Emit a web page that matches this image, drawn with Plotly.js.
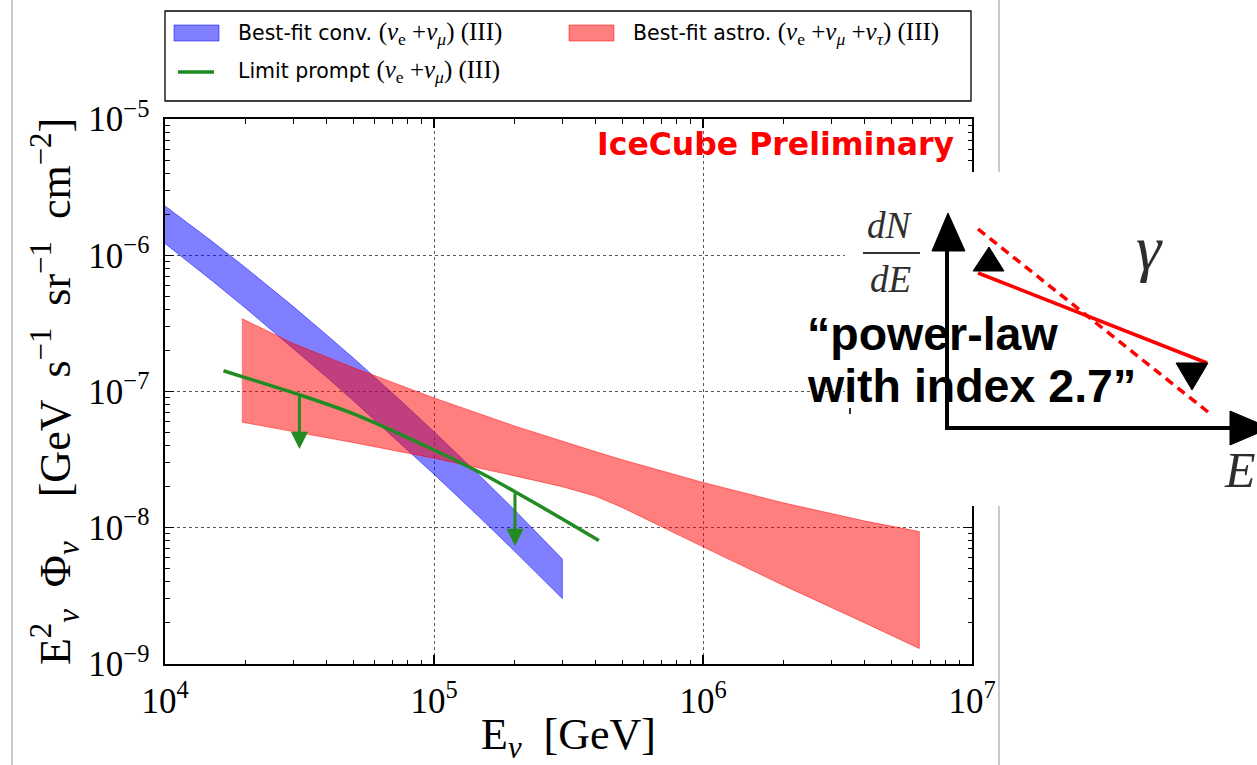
<!DOCTYPE html>
<html>
<head>
<meta charset="utf-8">
<script src="https://cdn.plot.ly/plotly-3.0.1.min.js"></script>
<style>
  html, body { margin: 0; padding: 0; background: #ffffff; }
  #chart { width: 1257px; height: 765px; }
</style>
</head>
<body>
<div id="chart"></div>
<script>
// ---- data: neutrino flux bands and prompt limit (E^2 * flux, GeV s^-1 sr^-1 cm^-2) ----
const E_conv   = [1e4, 1.5e4, 2e4, 3e4, 4e4, 5e4, 7e4, 1e5, 1.5e5, 2e5, 3e5];
const conv_hi  = [2.30e-6, 1.26e-6, 8.06e-7, 4.20e-7, 2.59e-7, 1.77e-7, 9.75e-8, 5.07e-8, 2.35e-8, 1.34e-8, 5.89e-9];
const conv_lo  = [1.22e-6, 6.48e-7, 4.07e-7, 2.07e-7, 1.27e-7, 8.60e-8, 4.73e-8, 2.47e-8, 1.16e-8, 6.68e-9, 3.02e-9];

const E_astro  = [1.93e4, 3e4, 5e4, 1e5, 2e5, 3e5, 4e5, 5e5, 7e5, 1e6, 2e6, 4e6, 6.37e6];
const astro_hi = [3.43e-7, 2.25e-7, 1.50e-7, 8.97e-8, 5.57e-8, 4.30e-8, 3.61e-8, 3.16e-8, 2.61e-8, 2.15e-8, 1.52e-8, 1.12e-8, 9.38e-9];
const astro_lo = [5.96e-8, 5.07e-8, 4.22e-8, 3.24e-8, 2.40e-8, 2.00e-8, 1.70e-8, 1.41e-8, 1.02e-8, 7.24e-9, 3.76e-9, 2.00e-9, 1.30e-9];

const E_prompt     = [1.65e4, 2e4, 3.16e4, 5e4, 1e5, 1.5e5, 2e5, 3e5, 4.1e5];
const prompt_limit = [1.42e-7, 1.26e-7, 9.46e-8, 6.87e-8, 3.72e-8, 2.51e-8, 1.84e-8, 1.16e-8, 8.05e-9];
const E_arrows     = [3.16e4, 2e5];

const MATH = '<span style="font-family:Liberation Serif;font-size:25px">';
const legend_labels = [
  'Best-fit conv. ' + MATH + '(<i>ν</i><sub>e</sub> +<i>ν</i><sub><i>μ</i></sub>) (III)</span>',
  'Best-fit astro. ' + MATH + '(<i>ν</i><sub>e</sub> +<i>ν</i><sub><i>μ</i></sub> +<i>ν</i><sub><i>τ</i></sub>) (III)</span>',
  'Limit prompt ' + MATH + '(<i>ν</i><sub>e</sub> +<i>ν</i><sub><i>μ</i></sub>) (III)</span>'
];
const x_title = 'E<sub><i>ν</i></sub>\u2002[GeV]';
const y_title = 'E<sup>2</sup><sub><i>ν</i></sub>\u2002Φ<sub><i>ν</i></sub>\u2002\u2002[GeV\u2002s<sup>−1</sup>\u2002sr<sup>−1</sup>\u2002cm<sup>−2</sup>]';
const stamp   = 'IceCube Preliminary';
const note_lines = ['\u201Cpower-law', 'with index 2.7\u201D'];

// ---- styling ----
const BLUE_FILL = 'rgba(0,0,255,0.5)';
const RED_FILL  = 'rgba(255,0,0,0.5)';
const GREEN     = '#228B22';
const arrowDrop = 2.5;   // limit arrows point down by this factor

// pixel frame of the figure -> paper coordinates
const L = 165, R = 972, T = 119, B = 664;
const px = x => (x - L) / (R - L);
const py = y => (B - y) / (B - T);

// closed band polygon: upper edge forward, lower edge back
function band(E, hi, lo) {
  return {
    x: E.concat(E.slice().reverse()),
    y: hi.concat(lo.slice().reverse())
  };
}
const convBand = band(E_conv, conv_hi, conv_lo);
const astroBand = band(E_astro, astro_hi, astro_lo);

const traces = [
  {
    x: convBand.x, y: convBand.y, type: 'scatter', mode: 'lines',
    fill: 'toself', fillcolor: BLUE_FILL,
    line: { color: BLUE_FILL, width: 1 }, showlegend: false, hoverinfo: 'skip'
  },
  {
    x: astroBand.x, y: astroBand.y, type: 'scatter', mode: 'lines',
    fill: 'toself', fillcolor: RED_FILL,
    line: { color: RED_FILL, width: 1 }, showlegend: false, hoverinfo: 'skip'
  },
  {
    x: E_prompt, y: prompt_limit, type: 'scatter', mode: 'lines',
    line: { color: GREEN, width: 3.5, shape: 'spline', smoothing: 0.6 }, showlegend: false, hoverinfo: 'skip'
  }
];

const shapes = [];
const annotations = [];

// downward arrows on the prompt limit
E_arrows.forEach(e => {
  const i = E_prompt.indexOf(e);
  const top = prompt_limit[i];
  annotations.push({
    xref: 'x', yref: 'y', axref: 'x', ayref: 'y',
    x: Math.log10(e), y: Math.log10(top / arrowDrop),
    ax: Math.log10(e), ay: Math.log10(top),
    text: '', showarrow: true, arrowhead: 2, arrowsize: 1.15, arrowwidth: 3,
    arrowcolor: GREEN, standoff: 0, startstandoff: 0
  });
});

// slide frame lines
shapes.push({ type: 'line', xref: 'paper', yref: 'paper', x0: px(12), x1: px(12), y0: py(0), y1: py(765),
  line: { color: '#c9c9c9', width: 2 }, layer: 'above' });
shapes.push({ type: 'line', xref: 'paper', yref: 'paper', x0: px(999), x1: px(999), y0: py(0), y1: py(765),
  line: { color: '#c9c9c9', width: 2 }, layer: 'above' });

// legend box
shapes.push({ type: 'rect', xref: 'paper', yref: 'paper', x0: px(165), x1: px(971), y0: py(101), y1: py(11),
  line: { color: '#000', width: 1.3 }, fillcolor: '#fff', layer: 'above' });
shapes.push({ type: 'rect', xref: 'paper', yref: 'paper', x0: px(174), x1: px(219), y0: py(41), y1: py(25),
  line: { color: BLUE_FILL, width: 1 }, fillcolor: BLUE_FILL, layer: 'above' });
shapes.push({ type: 'rect', xref: 'paper', yref: 'paper', x0: px(569), x1: px(614), y0: py(41), y1: py(25),
  line: { color: RED_FILL, width: 1 }, fillcolor: RED_FILL, layer: 'above' });
shapes.push({ type: 'line', xref: 'paper', yref: 'paper', x0: px(178), x1: px(214), y0: py(72), y1: py(72),
  line: { color: GREEN, width: 3.5 }, layer: 'above' });
[[236, 33], [631, 33], [236, 72]].forEach((p, k) => {
  annotations.push({ xref: 'paper', yref: 'paper', x: px(p[0]), y: py(p[1]), xanchor: 'left', yanchor: 'middle',
    text: legend_labels[k], showarrow: false, font: { family: 'DejaVu Sans', size: 20.5, color: '#000' } });
});

// stamp
annotations.push({ xref: 'paper', yref: 'paper', x: px(956), y: py(144), xanchor: 'right', yanchor: 'middle',
  text: stamp, showarrow: false, font: { family: 'DejaVu Sans', size: 31.5, color: '#ff0000', weight: 'bold' } });

// ---- power-law sketch ----
shapes.push({ type: 'rect', xref: 'paper', yref: 'paper', x0: px(845), x1: px(1262), y0: py(506), y1: py(172),
  line: { width: 0 }, fillcolor: '#fff', layer: 'above' });
function pathOf(pts) {
  return pts.map((p, i) => (i ? 'L' : 'M') + px(p[0]).toFixed(5) + ',' + py(p[1]).toFixed(5)).join(' ') + ' Z';
}
function seg(x0, y0, x1, y1, color, width, dash) {
  shapes.push({ type: 'line', xref: 'paper', yref: 'paper', x0: px(x0), x1: px(x1), y0: py(y0), y1: py(y1),
    line: { color: color, width: width, dash: dash || 'solid' }, layer: 'above' });
}
function tri(pts, color) {
  shapes.push({ type: 'path', xref: 'paper', yref: 'paper', path: pathOf(pts),
    fillcolor: color, line: { color: color, width: 1 }, layer: 'above' });
}
seg(947, 430, 947, 245, '#000', 4);
seg(945, 428, 1235, 428, '#000', 4);
tri([[948, 213], [932, 251], [965, 251]], '#000');
tri([[1270, 428], [1230, 411], [1230, 445]], '#000');
seg(978, 273, 1207, 363, '#ff0000', 3.5);
seg(978, 229, 1208, 412, '#ff0000', 3.5, '9px,6px');
tri([[989, 247], [973, 271], [1004, 271]], '#000');
tri([[1192, 390], [1176, 363], [1208, 363]], '#000');
seg(863, 253, 920, 253, '#333', 2);
seg(850, 408, 850, 414, '#333', 2);

const sketchFont = { family: 'Liberation Serif', color: '#2e2e2e' };
annotations.push({ xref: 'paper', yref: 'paper', x: px(890), y: py(226), xanchor: 'center', yanchor: 'middle',
  text: '<i>dN</i>', showarrow: false, font: Object.assign({ size: 37 }, sketchFont) });
annotations.push({ xref: 'paper', yref: 'paper', x: px(890), y: py(279), xanchor: 'center', yanchor: 'middle',
  text: '<i>dE</i>', showarrow: false, font: Object.assign({ size: 37 }, sketchFont) });
annotations.push({ xref: 'paper', yref: 'paper', x: px(1149), y: py(248), xanchor: 'center', yanchor: 'middle',
  text: '<i>γ</i>', showarrow: false, font: Object.assign({ size: 64 }, sketchFont) });
annotations.push({ xref: 'paper', yref: 'paper', x: px(1222), y: py(470), xanchor: 'left', yanchor: 'middle',
  text: '<i>E</i>', showarrow: false, font: Object.assign({ size: 50 }, sketchFont) });
annotations.push({ xref: 'paper', yref: 'paper', x: px(805), y: py(334), xanchor: 'left', yanchor: 'middle',
  text: note_lines[0], showarrow: false, font: { family: 'Liberation Sans', size: 46.5, color: '#000', weight: 'bold' } });
annotations.push({ xref: 'paper', yref: 'paper', x: px(805), y: py(386), xanchor: 'left', yanchor: 'middle',
  text: note_lines[1], showarrow: false, font: { family: 'Liberation Sans', size: 46.5, color: '#000', weight: 'bold' } });

const axisCommon = {
  type: 'log', dtick: 1, exponentformat: 'power',
  showline: true, linecolor: '#000', linewidth: 2, mirror: 'allticks',
  ticks: 'inside', ticklen: 9, tickwidth: 1.2, tickcolor: '#000',
  showgrid: true, gridcolor: 'rgba(0,0,0,0.65)', griddash: 'dot', gridwidth: 1,
  zeroline: false,
  minor: { ticks: 'inside', ticklen: 4.5, tickwidth: 1, tickcolor: '#000', showgrid: false, dtick: 'D1' },
  tickfont: { family: 'Liberation Serif', size: 28, color: '#000' }
};

const layout = {
  width: 1257, height: 765,
  margin: { l: L, r: 1257 - R, t: T, b: 765 - B, pad: 0 },
  paper_bgcolor: '#fff', plot_bgcolor: '#fff',
  font: { family: 'Liberation Serif', color: '#000' },
  showlegend: false,
  xaxis: Object.assign({}, axisCommon, {
    range: [4, 7], ticklabelstandoff: 6,
    title: { text: x_title, font: { family: 'Liberation Serif', size: 44, color: '#000' }, standoff: 2 }
  }),
  yaxis: Object.assign({}, axisCommon, {
    range: [-9, -5], ticklabelstandoff: 8,
    title: { text: y_title, font: { family: 'Liberation Serif', size: 44, color: '#000' }, standoff: 4 }
  }),
  shapes: shapes,
  annotations: annotations
};

Plotly.newPlot('chart', traces, layout, { staticPlot: true, displayModeBar: false });
</script>
</body>
</html>
